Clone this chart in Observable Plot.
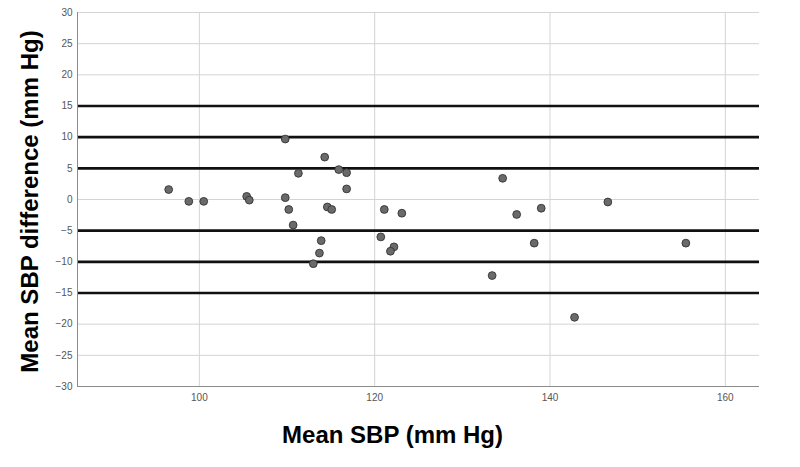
<!DOCTYPE html>
<html>
<head>
<meta charset="utf-8">
<script src="https://cdn.jsdelivr.net/npm/d3@7"></script>
<script src="https://cdn.jsdelivr.net/npm/@observablehq/plot@0.6"></script>
<style>
  html, body { margin: 0; padding: 0; background: #fff; }
  #chart { width: 800px; height: 467px; }
</style>
</head>
<body>
<div id="chart"></div>
<script>
// Mean SBP (x) and mean SBP difference (y)
const meanSBP = [
  96.5, 98.8, 100.5, 105.4, 105.7, 109.8, 109.8, 110.2, 111.3, 110.7,
  114.3, 115.9, 116.8, 116.8, 114.6, 115.1, 113.9, 113.7, 113.0,
  121.1, 123.1, 120.7, 122.2, 121.8,
  134.6, 136.2, 139.0, 146.6, 138.2, 155.5, 133.4, 142.8
];
const diffSBP = [
  1.6, -0.3, -0.3, 0.5, -0.1, 9.7, 0.3, -1.6, 4.2, -4.1,
  6.8, 4.8, 4.3, 1.7, -1.2, -1.6, -6.6, -8.6, -10.3,
  -1.6, -2.2, -6.0, -7.6, -8.3,
  3.4, -2.4, -1.4, -0.4, -7.0, -7.0, -12.2, -18.9
];
const referenceLines = [-15, -10, -5, 5, 10, 15];
const xTicks = [100, 120, 140, 160];
const yTicks = [-30, -25, -20, -15, -10, -5, 0, 5, 10, 15, 20, 25, 30];
const xDomain = [86.1, 163.9];
const yDomain = [-30, 30];
const xTitle = "Mean SBP (mm Hg)";
const yTitle = "Mean SBP difference (mm Hg)";

const points = meanSBP.map((x, i) => ({x, y: diffSBP[i]}));

const chart = Plot.plot({
  width: 800,
  height: 467,
  marginLeft: 77,
  marginRight: 41,
  marginTop: 12,
  marginBottom: 81,
  style: {fontFamily: "Liberation Sans, Arial, sans-serif", background: "#fff"},
  x: {domain: xDomain, ticks: xTicks},
  y: {domain: yDomain, ticks: yTicks},
  marks: [
    Plot.gridX(xTicks, {stroke: "#d4d4d4", strokeOpacity: 1, strokeWidth: 1}),
    Plot.gridY(yTicks, {stroke: "#d4d4d4", strokeOpacity: 1, strokeWidth: 1}),
    Plot.ruleY(referenceLines, {stroke: "#111", strokeWidth: 2.6}),
    Plot.ruleX([xDomain[0]], {stroke: "#8c8c8c", strokeWidth: 1}),
    Plot.ruleY([yDomain[0]], {stroke: "#8c8c8c", strokeWidth: 1}),
    Plot.axisX(xTicks, {tickSize: 0, tickPadding: 7, fontSize: 10, fill: "#555", label: null}),
    Plot.axisY(yTicks, {tickSize: 0, tickPadding: 5, fontSize: 10, fill: "#555", label: null}),
    Plot.dot(points, {x: "x", y: "y", r: 3.9, fill: "#6a6a6a", stroke: "#333", strokeWidth: 0.9}),
    Plot.text([xTitle], {frameAnchor: "bottom", text: d => d, dx: -26, dy: 49, fontSize: 24, fontWeight: "bold", fill: "#000", textAnchor: "middle", lineAnchor: "middle"}),
    Plot.text([yTitle], {frameAnchor: "left", text: d => d, dx: -47, dy: 2, rotate: -90, fontSize: 24, fontWeight: "bold", fill: "#000", textAnchor: "middle", lineAnchor: "middle"})
  ]
});
document.getElementById("chart").appendChild(chart);
</script>
</body>
</html>
